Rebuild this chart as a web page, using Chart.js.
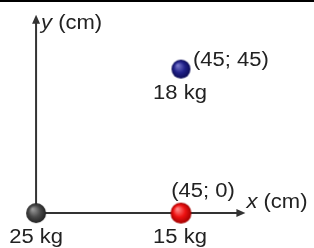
<!DOCTYPE html>
<html>
<head>
<meta charset="utf-8">
<script src="https://cdn.jsdelivr.net/npm/chart.js@4"></script>
<style>
  html, body { margin: 0; padding: 0; background: #fff; }
  #chart { display: block; }
</style>
</head>
<body>
<canvas id="chart" width="314" height="248"></canvas>
<script>
// masses placed on the xy plane (cm)
var massX = [0, 45, 45];
var massY = [0, 0, 45];
var massLabels = ["25 kg", "15 kg", "18 kg"];
var coordLabels = ["", "(45; 0)", "(45; 45)"];
var axisVars = ["x", "y"];
var axisUnit = " (cm)";
var axisEnd = [65, 62];

// ball shading: highlight, body, rim
var ballColors = [
    ["#9a9a9a", "#4a4a4a", "#222222"],
    ["#ff8a8a", "#ee1111", "#a00000"],
    ["#7a7acc", "#22228a", "#0c0c55"]
];
var ballRadius = [10, 10.5, 9.5];

var points = massX.map(function (x, i) { return { x: x, y: massY[i] }; });

// shaded ball images used as point styles
function makeBall(col, r) {
    var s = Math.ceil(r * 2) + 2;
    var cv = document.createElement("canvas");
    cv.width = s; cv.height = s;
    var c = cv.getContext("2d");
    var m = s / 2;
    var g = c.createRadialGradient(m - r * 0.35, m - r * 0.4, 0.5, m, m, r);
    g.addColorStop(0, col[0]);
    g.addColorStop(0.55, col[1]);
    g.addColorStop(1, col[2]);
    c.fillStyle = g;
    c.beginPath();
    c.arc(m, m, r, 0, Math.PI * 2);
    c.fill();
    return cv;
}
var ballImages = ballColors.map(function (col, i) { return makeBall(col, ballRadius[i]); });

var font = "20px 'Liberation Sans', Arial, sans-serif";
var italicFont = "italic 20px 'Liberation Sans', Arial, sans-serif";

// text in the reference is a little wider than plain Arial
function wideText(ctx, text, x, y, align) {
    var w = ctx.measureText(text).width * 1.1;
    var left = align === "center" ? x - w / 2 : x;
    ctx.save();
    ctx.translate(left, y);
    ctx.scale(1.1, 1);
    ctx.textAlign = "left";
    ctx.fillText(text, 0, 0);
    ctx.restore();
    return w;
}

function axisTitle(ctx, v, x, y) {
    ctx.font = italicFont;
    var w = wideText(ctx, v, x, y, "left");
    ctx.font = font;
    wideText(ctx, axisUnit, x + w, y, "left");
}

var axesPlugin = {
    id: "axesPlugin",
    beforeDatasetsDraw: function (chart) {
        var ctx = chart.ctx, sx = chart.scales.x, sy = chart.scales.y;
        var x0 = sx.getPixelForValue(0), y0 = sy.getPixelForValue(0);
        var xe = sx.getPixelForValue(axisEnd[0]), ye = sy.getPixelForValue(axisEnd[1]);
        ctx.save();
        // frame line along the top
        ctx.fillStyle = "#000";
        ctx.fillRect(0, 0, chart.width, 2);
        ctx.strokeStyle = "#333";
        ctx.fillStyle = "#333";
        ctx.lineWidth = 2;
        ctx.beginPath();
        ctx.moveTo(x0, y0);
        ctx.lineTo(xe - 6, y0);
        ctx.moveTo(x0, y0);
        ctx.lineTo(x0, ye + 6);
        ctx.stroke();
        ctx.beginPath();
        ctx.moveTo(xe, y0);
        ctx.lineTo(xe - 9, y0 - 4);
        ctx.lineTo(xe - 9, y0 + 4);
        ctx.closePath();
        ctx.moveTo(x0, ye);
        ctx.lineTo(x0 - 4, ye + 9);
        ctx.lineTo(x0 + 4, ye + 9);
        ctx.closePath();
        ctx.fill();
        ctx.restore();
    },
    afterDatasetsDraw: function (chart) {
        var ctx = chart.ctx, sx = chart.scales.x, sy = chart.scales.y;
        var x0 = sx.getPixelForValue(0), y0 = sy.getPixelForValue(0);
        ctx.save();
        ctx.fillStyle = "#222";
        ctx.textBaseline = "middle";
        axisTitle(ctx, axisVars[0], sx.getPixelForValue(axisEnd[0]) + 1, y0 - 11);
        axisTitle(ctx, axisVars[1], x0 + 5, sy.getPixelForValue(axisEnd[1]) + 9);
        ctx.font = font;
        for (var i = 0; i < points.length; i++) {
            var px = sx.getPixelForValue(points[i].x);
            var py = sy.getPixelForValue(points[i].y);
            wideText(ctx, massLabels[i], px + (i === 0 ? 0 : -1), py + 24, "center");
            if (coordLabels[i]) {
                if (points[i].y === 0) {
                    wideText(ctx, coordLabels[i], px + 22, py - 22, "center");
                } else {
                    wideText(ctx, coordLabels[i], px + 12, py - 9, "left");
                }
            }
        }
        ctx.restore();
    }
};

var ctx = document.getElementById("chart");
var myChart = new Chart(ctx, {
    type: "scatter",
    data: {
        datasets: [{
            data: points,
            pointStyle: ballImages,
            pointRadius: 10,
            pointHoverRadius: 10
        }]
    },
    options: {
        responsive: false,
        maintainAspectRatio: false,
        animation: false,
        layout: { padding: 0, autoPadding: false },
        scales: {
            x: { display: false, min: -11.2, max: 86.3 },
            y: { display: false, min: -10.9, max: 66.6 }
        },
        plugins: {
            legend: { display: false },
            tooltip: { enabled: false }
        }
    },
    plugins: [axesPlugin]
});
</script>
</body>
</html>
